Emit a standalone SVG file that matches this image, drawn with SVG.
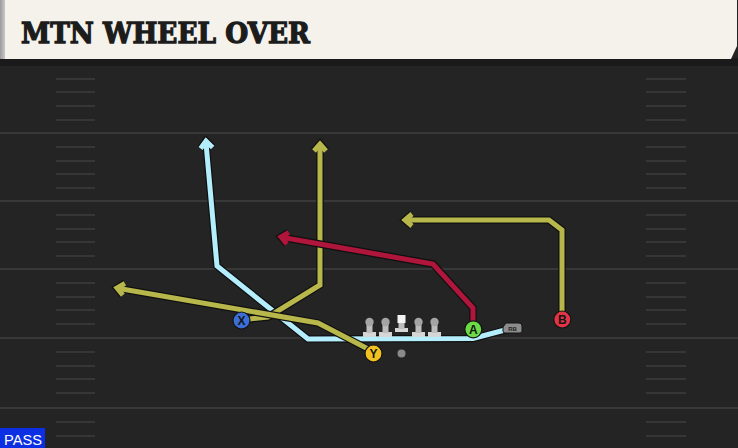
<svg xmlns="http://www.w3.org/2000/svg" width="738" height="448" viewBox="0 0 738 448">
<style>
.yl{stroke:#383838;stroke-width:2}
.hs{stroke:#363636;stroke-width:2}
.o{fill:none;stroke:#101010;stroke-width:7.5;stroke-linejoin:miter;stroke-linecap:butt}
.cb{fill:none;stroke:#b4eefc;stroke-width:5;stroke-linejoin:miter}
.cy{fill:none;stroke:#b7b74b;stroke-width:5;stroke-linejoin:miter}
.cr{fill:none;stroke:#b0153b;stroke-width:5;stroke-linejoin:miter}
.pl{stroke:#151515;stroke-width:1.2}
.lt{font-family:"Liberation Sans",Arial,sans-serif;font-weight:bold;font-size:12px;fill:#151515;text-anchor:middle}
.head{fill:#a4a4a4}
.stem{fill:#bdbdbd}
.base{fill:#d6d6d6}
</style>
<defs>
<linearGradient id="strip" x1="0" x2="1" y1="0" y2="0">
<stop offset="0" stop-color="#9a9a9a"/><stop offset="1" stop-color="#c8c8c8"/>
</linearGradient>
</defs>
<rect x="0" y="0" width="738" height="448" fill="#242424"/>
<g id="title">
<rect x="0" y="58" width="738" height="8" fill="#1a1a1a"/>
<path d="M5 0 H737 V46 L731 59 H5 Z" fill="#f5f2eb"/>
<rect x="0" y="0" width="5" height="59" fill="url(#strip)"/>
<text x="21" y="43" font-family="'DejaVu Serif',serif" font-weight="bold" font-size="28" fill="#1c1c1c" stroke="#1c1c1c" stroke-width="1.3" textLength="289" lengthAdjust="spacingAndGlyphs">MTN WHEEL OVER</text>
</g>
<g id="field">
<line class="yl" x1="0" y1="133" x2="738" y2="133"/>
<line class="yl" x1="0" y1="201" x2="738" y2="201"/>
<line class="yl" x1="0" y1="269" x2="738" y2="269"/>
<line class="yl" x1="0" y1="338" x2="738" y2="338"/>
<line class="yl" x1="0" y1="408" x2="738" y2="408"/>
<g id="hashes">
<path class="hs" d="M56 79H95M56 92H95M56 106H95M56 120H95M56 147H95M56 161H95M56 174H95M56 188H95M56 215H95M56 229H95M56 242H95M56 256H95M56 283H95M56 297H95M56 310H95M56 324H95M56 352H95M56 366H95M56 379H95M56 393H95M56 422H95M56 436H95"/>
<path class="hs" d="M646 79H686M646 92H686M646 106H686M646 120H686M646 147H686M646 161H686M646 174H686M646 188H686M646 215H686M646 229H686M646 242H686M646 256H686M646 283H686M646 297H686M646 310H686M646 324H686M646 352H686M646 366H686M646 379H686M646 393H686M646 422H686M646 436H686"/>
</g>
</g>
<g id="connectors">
<g id="route-blue">
<path class="o" d="M505 330 L473 338.5 L308 339 L217 266 L206 143"/>
<polyline class="o" points="200.6,148.5 206,141 212.6,147.5"/>
<path class="cb" d="M505 330 L473 338.5 L308 339 L217 266 L206 143"/>
<polyline class="cb" points="200.6,148.5 206,141 212.6,147.5"/>
</g>
<g id="route-x">
<path class="o" d="M249 319 L268 317 L320 285 L320 146"/>
<polyline class="o" points="314,151 320,144 326,151"/>
<path class="cy" d="M249 319 L268 317 L320 285 L320 146"/>
<polyline class="cy" points="314,151 320,144 326,151"/>
</g>
<g id="route-y">
<path class="o" d="M370 350 L318 323 L119 288.5"/>
<polyline class="o" points="122.9,295.1 117,288 124.9,283.3"/>
<path class="cy" d="M370 350 L318 323 L119 288.5"/>
<polyline class="cy" points="122.9,295.1 117,288 124.9,283.3"/>
</g>
<g id="route-a">
<path class="o" d="M473 322 L473 308 L433 264 L283 237.5"/>
<polyline class="o" points="286.9,244.1 281,237 288.9,232.3"/>
<path class="cr" d="M473 322 L473 308 L433 264 L283 237.5"/>
<polyline class="cr" points="286.9,244.1 281,237 288.9,232.3"/>
</g>
<g id="route-b">
<path class="o" d="M562 312 L562 230 L549 220 L407 220"/>
<polyline class="o" points="412,214 405,220 412,226"/>
<path class="cy" d="M562 312 L562 230 L549 220 L407 220"/>
<polyline class="cy" points="412,214 405,220 412,226"/>
</g>
</g>
<g id="line">
<g id="lt1"><rect class="base" x="363" y="332" width="13" height="5"/><rect class="stem" x="366.5" y="322" width="6" height="11"/><circle class="head" cx="369.5" cy="322" r="4.2"/></g>
<g id="lg1"><rect class="base" x="379" y="332" width="13" height="5"/><rect class="stem" x="382.5" y="322" width="6" height="11"/><circle class="head" cx="385.5" cy="322" r="4.2"/></g>
<g id="c"><rect class="base" x="395" y="328" width="13" height="4"/><rect class="stem" x="398.5" y="322" width="6" height="7"/><rect x="397.5" y="315" width="8" height="8" fill="#f4f4f4"/></g>
<g id="rg1"><rect class="base" x="412" y="332" width="13" height="5"/><rect class="stem" x="415.5" y="322" width="6" height="11"/><circle class="head" cx="418.5" cy="322" r="4.2"/></g>
<g id="rt1"><rect class="base" x="428" y="332" width="13" height="5"/><rect class="stem" x="431.5" y="322" width="6" height="11"/><circle class="head" cx="434.5" cy="322" r="4.2"/></g>
</g>
<g id="ball"><circle cx="401.5" cy="353.5" r="4" fill="#8a8a8a"/></g>
<g id="rb">
<path d="M506 323 H519 Q522 323 522 326 V331 Q522 333 520 333 H505 Q503 333 503 331 V327 Z" fill="#8c8c8c" stroke="#151515" stroke-width="1"/>
<text x="512.5" y="331" font-family="'Liberation Sans',Arial,sans-serif" font-weight="bold" font-size="6" fill="#222" text-anchor="middle">RB</text>
</g>
<g id="x"><circle class="pl" cx="241.5" cy="320.5" r="8.5" fill="#3b6ed6"/><text class="lt" x="241.5" y="324.8">X</text></g>
<g id="y"><circle class="pl" cx="373.5" cy="353.5" r="8.5" fill="#f1c21f"/><text class="lt" x="373.5" y="357.8">Y</text></g>
<g id="a"><circle class="pl" cx="473.3" cy="329.3" r="8.5" fill="#6bdc47"/><text class="lt" x="473.3" y="333.6">A</text></g>
<g id="b"><circle class="pl" cx="562.3" cy="319.5" r="8.5" fill="#e23445"/><text class="lt" x="562.3" y="323.8">B</text></g>
<g id="pass"><rect x="0" y="428" width="45" height="20" fill="#0c2fe3"/><text x="4" y="445" font-family="'Liberation Sans',Arial,sans-serif" font-size="15" fill="#ffffff" textLength="38" lengthAdjust="spacingAndGlyphs">PASS</text></g>
</svg>
